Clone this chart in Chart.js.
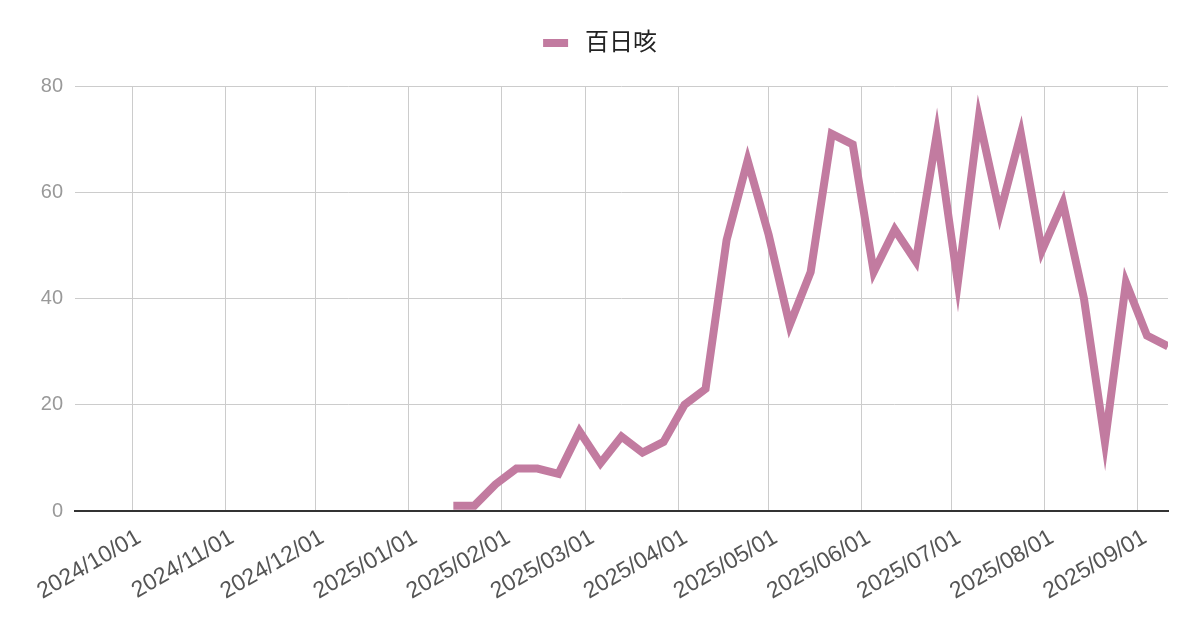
<!DOCTYPE html>
<html>
<head>
<meta charset="utf-8">
<script src="https://cdn.jsdelivr.net/npm/chart.js@4.4.1/dist/chart.umd.min.js"></script>
<style>
  html, body { margin: 0; padding: 0; background: #fff; }
  #wrap { width: 1200px; height: 626px; position: relative; }
</style>
</head>
<body>
<div id="wrap"><canvas id="chart"></canvas></div>
<script>
// weekly counts (week dates)
const weeks = [
  '2025-01-16', '2025-01-23', '2025-01-30', '2025-02-06', '2025-02-13', '2025-02-20', '2025-02-27',
  '2025-03-06', '2025-03-13', '2025-03-20', '2025-03-27', '2025-04-03', '2025-04-10', '2025-04-17',
  '2025-04-24', '2025-05-01', '2025-05-08', '2025-05-15', '2025-05-22', '2025-05-29', '2025-06-05',
  '2025-06-12', '2025-06-19', '2025-06-26', '2025-07-03', '2025-07-10', '2025-07-17', '2025-07-24',
  '2025-07-31', '2025-08-07', '2025-08-14', '2025-08-21', '2025-08-28', '2025-09-04', '2025-09-11'
];
const cases = [
  1, 1, 5, 8, 8, 7, 15,
  9, 14, 11, 13, 20, 23, 51,
  66, 52, 35, 45, 71, 69, 45,
  53, 47, 71, 43, 74, 56, 71,
  49, 58, 40, 13, 43, 33, 31
];
const seriesName = '百日咳';

// x axis: month starts
const monthTicks = [
  '2024-10-01', '2024-11-01', '2024-12-01', '2025-01-01', '2025-02-01', '2025-03-01',
  '2025-04-01', '2025-05-01', '2025-06-01', '2025-07-01', '2025-08-01', '2025-09-01'
];
const xMin = '2024-09-12';
const xMax = '2025-09-11';
const yTicks = [0, 20, 40, 60, 80];

const lineColor = '#c27ba0';
const fontFamily = "'Liberation Sans', Arial, 'Noto Sans CJK JP', sans-serif";

function fmtDate(ms) {
  const d = new Date(ms);
  const mm = String(d.getUTCMonth() + 1).padStart(2, '0');
  const dd = String(d.getUTCDate()).padStart(2, '0');
  return d.getUTCFullYear() + '/' + mm + '/' + dd;
}

// push plot area down a bit under the legend
const legendSpacing = {
  id: 'legendSpacing',
  beforeInit(chart) {
    const origFit = chart.legend.fit;
    chart.legend.fit = function () {
      origFit.call(this);
      this.height += 21;
    };
  }
};

const ctx = document.getElementById('chart').getContext('2d');
new Chart(ctx, {
  type: 'line',
  data: {
    datasets: [{
      label: seriesName,
      data: weeks.map((w, i) => ({ x: Date.parse(w), y: cases[i] })),
      borderColor: lineColor,
      backgroundColor: lineColor,
      borderWidth: 8,
      pointRadius: 0,
      pointHoverRadius: 0,
      tension: 0,
      fill: false
    }]
  },
  options: {
    responsive: true,
    maintainAspectRatio: false,
    animation: false,
    layout: { padding: { top: 21, right: 0, left: 0, bottom: 0 } },
    plugins: {
      tooltip: { enabled: false },
      legend: {
        position: 'top',
        labels: {
          boxWidth: 25,
          boxHeight: 8,
          color: '#222',
          font: { family: fontFamily, size: 24 },
          generateLabels(chart) {
            // thin space widens the gap between swatch and text
            return Chart.defaults.plugins.legend.labels.generateLabels(chart)
              .map(l => ({ ...l, text: '\u2009' + l.text, lineWidth: 0 }));
          }
        }
      }
    },
    scales: {
      x: {
        type: 'linear',
        min: Date.parse(xMin),
        max: Date.parse(xMax),
        afterBuildTicks(scale) {
          scale.ticks = monthTicks.map(m => ({ value: Date.parse(m) }));
        },
        afterFit(scale) {
          scale.height = 115;
        },
        ticks: {
          autoSkip: false,
          minRotation: 30,
          maxRotation: 30,
          padding: 13,
          labelOffset: 7,
          color: '#555',
          font: { family: fontFamily, size: 23 },
          callback: value => fmtDate(value)
        },
        grid: { color: '#cccccc', lineWidth: 1, drawTicks: false },
        border: { display: true, color: '#333', width: 2 }
      },
      y: {
        min: 0,
        max: 80,
        afterBuildTicks(scale) {
          scale.ticks = yTicks.map(v => ({ value: v }));
        },
        afterFit(scale) {
          scale.width = 75;
        },
        ticks: {
          padding: 12,
          color: '#999',
          font: { family: fontFamily, size: 20 }
        },
        grid: { color: '#cccccc', lineWidth: 1, drawTicks: false },
        border: { display: false }
      },
      // empty right-hand gutter so the legend stays centred on the page
      gutter: {
        type: 'linear',
        position: 'right',
        afterFit(scale) {
          scale.width = 32;
        },
        ticks: { display: false },
        grid: { display: false },
        border: { display: false }
      }
    }
  },
  plugins: [legendSpacing]
});
</script>
</body>
</html>
